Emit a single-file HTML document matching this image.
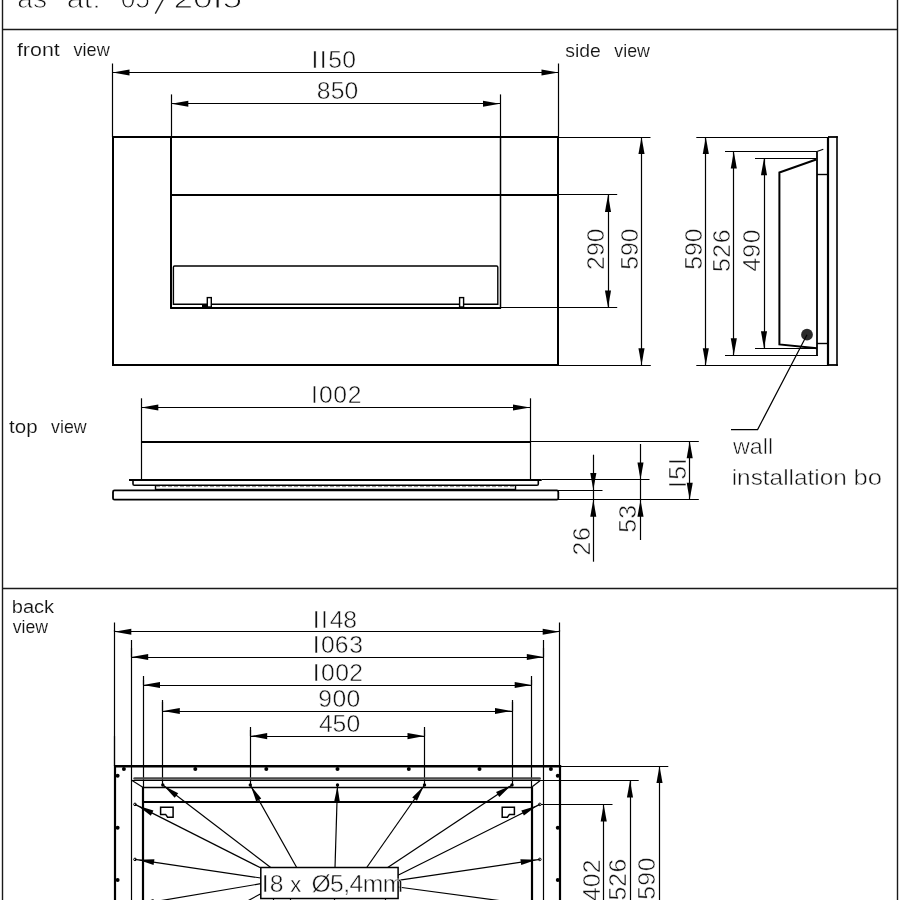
<!DOCTYPE html>
<html><head><meta charset="utf-8"><style>
html,body{margin:0;padding:0;background:#fff;width:900px;height:900px;overflow:hidden}
svg{display:block;filter:grayscale(1)}
text{font-family:"Liberation Sans",sans-serif}
</style></head><body>
<svg width="900" height="900" viewBox="0 0 900 900">
<rect width="900" height="900" fill="#fff"/>
<line x1="2.5" y1="0" x2="2.5" y2="900" stroke="#1a1a1a" stroke-width="1.4"/>
<line x1="897.5" y1="0" x2="897.5" y2="900" stroke="#1a1a1a" stroke-width="1.4"/>
<line x1="2" y1="29.5" x2="898" y2="29.5" stroke="#1a1a1a" stroke-width="1.5999999999999999"/>
<line x1="2" y1="588.5" x2="898" y2="588.5" stroke="#1a1a1a" stroke-width="1.5999999999999999"/>
<text transform="translate(18.50,7.5) scale(0.9871,1.0)" x="-1.21 14.64" y="0" font-size="28.5" fill="#111" stroke="#fff" stroke-width="0.9">as</text>
<text transform="translate(68.00,7.5) scale(1.0763,1.0)" x="-1.21 14.64 22.56" y="0" font-size="28.5" fill="#111" stroke="#fff" stroke-width="0.9">at:</text>
<text transform="translate(121.70,7.5) scale(0.9255,1.0)" x="-1.11 14.74" y="0" font-size="28.5" fill="#111" stroke="#fff" stroke-width="0.9">05</text>
<text transform="translate(175.30,7.5) scale(1.2358,1.0)" x="-1.43 14.42 30.27 38.19" y="0" font-size="28.5" fill="#111" stroke="#fff" stroke-width="0.9">20I5</text>
<line x1="163.9" y1="-2" x2="155.3" y2="13.7" stroke="#222" stroke-width="1.4"/>
<text transform="translate(17.20,55.5) scale(1.1516,1.0)" x="-0.26 4.90 11.10 21.44 31.79" y="0" font-size="18.6" fill="#111" stroke="#fff" stroke-width="0.15">front</text>
<text transform="translate(73.60,55.5) scale(0.9734,1.0)" x="-0.06 9.24 13.37 23.71" y="0" font-size="18.6" fill="#111" stroke="#fff" stroke-width="0.15">view</text>
<text transform="translate(565.80,56.7) scale(1.0434,1.0)" x="-0.52 8.78 12.91 23.26" y="0" font-size="18.6" fill="#111" stroke="#fff" stroke-width="0.15">side</text>
<text transform="translate(614.40,56.7) scale(0.9572,1.0)" x="-0.06 9.24 13.37 23.71" y="0" font-size="18.6" fill="#111" stroke="#fff" stroke-width="0.15">view</text>
<line x1="112.5" y1="63.5" x2="112.5" y2="137" stroke="#000" stroke-width="1.2"/>
<line x1="558.5" y1="63.5" x2="558.5" y2="137" stroke="#000" stroke-width="1.2"/>
<line x1="112.5" y1="72.5" x2="558.5" y2="72.5" stroke="#000" stroke-width="1.2"/>
<polygon points="112.50,72.50 129.50,69.45 129.50,75.55" fill="#000"/>
<polygon points="558.50,72.50 541.50,75.55 541.50,69.45" fill="#000"/>
<text x="311.42 319.82 328.21 342.24" y="67.9" font-size="24.7" fill="#111" stroke="#fff" stroke-width="0.5">II50</text>
<line x1="171.5" y1="94.4" x2="171.5" y2="137" stroke="#000" stroke-width="1.2"/>
<line x1="500.5" y1="94.4" x2="500.5" y2="137" stroke="#000" stroke-width="1.2"/>
<line x1="171.3" y1="103.5" x2="500" y2="103.5" stroke="#000" stroke-width="1.2"/>
<polygon points="171.30,103.80 188.30,100.75 188.30,106.85" fill="#000"/>
<polygon points="500.00,103.80 483.00,106.85 483.00,100.75" fill="#000"/>
<text x="316.83 330.72 344.55" y="98.7" font-size="24.7" fill="#111" stroke="#fff" stroke-width="0.5">850</text>
<rect x="113" y="137" width="445" height="228" rx="0" stroke="#000" stroke-width="2" fill="none"/>
<line x1="171.0" y1="137" x2="171.0" y2="308.5" stroke="#000" stroke-width="2"/>
<line x1="500.5" y1="137" x2="500.5" y2="308.5" stroke="#000" stroke-width="1.5"/>
<line x1="170.2" y1="308.0" x2="501" y2="308.0" stroke="#000" stroke-width="2"/>
<line x1="171" y1="195.0" x2="559" y2="195.0" stroke="#000" stroke-width="2"/>
<path d="M173.4,305 V267.2 Q173.4,266 174.6,266 H496.6 Q497.8,266 497.8,267.2 V304.3 H173.4" fill="none" stroke="#000" stroke-width="1.4"/>
<rect x="207.3" y="297.6" width="4" height="9.4" rx="0" stroke="#000" stroke-width="1.4" fill="#fff"/>
<rect x="459.6" y="297.6" width="4" height="9.4" rx="0" stroke="#000" stroke-width="1.4" fill="#fff"/>
<line x1="202" y1="306.0" x2="207" y2="306.0" stroke="#000" stroke-width="2"/>
<line x1="559" y1="194.5" x2="617.2" y2="194.5" stroke="#000" stroke-width="1.2"/>
<line x1="500" y1="307.5" x2="617.2" y2="307.5" stroke="#000" stroke-width="1.2"/>
<line x1="559" y1="137.5" x2="650.5" y2="137.5" stroke="#000" stroke-width="1.2"/>
<line x1="559" y1="365.5" x2="650.8" y2="365.5" stroke="#000" stroke-width="1.2"/>
<line x1="608.5" y1="195" x2="608.5" y2="307.5" stroke="#000" stroke-width="1.2"/>
<polygon points="608.00,195.00 611.05,212.00 604.95,212.00" fill="#000"/>
<polygon points="608.00,307.50 604.95,290.50 611.05,290.50" fill="#000"/>
<line x1="641.5" y1="137" x2="641.5" y2="365.2" stroke="#000" stroke-width="1.2"/>
<polygon points="641.50,137.00 644.55,154.00 638.45,154.00" fill="#000"/>
<polygon points="641.50,365.20 638.45,348.20 644.55,348.20" fill="#000"/>
<text transform="rotate(-90)" x="-269.94 -256.09 -242.13" y="604.2" font-size="24.7" fill="#111" stroke="#fff" stroke-width="0.5">290</text>
<text transform="rotate(-90)" x="-269.69 -256.09 -242.13" y="637.7" font-size="24.7" fill="#111" stroke="#fff" stroke-width="0.5">590</text>
<line x1="696.3" y1="137.5" x2="829" y2="137.5" stroke="#000" stroke-width="1.2"/>
<line x1="696.3" y1="365.5" x2="829" y2="365.5" stroke="#000" stroke-width="1.2"/>
<line x1="705.5" y1="137" x2="705.5" y2="365.2" stroke="#000" stroke-width="1.2"/>
<polygon points="705.80,137.00 708.85,154.00 702.75,154.00" fill="#000"/>
<polygon points="705.80,365.20 702.75,348.20 708.85,348.20" fill="#000"/>
<text transform="rotate(-90)" x="-269.69 -256.09 -242.13" y="701.7" font-size="24.7" fill="#111" stroke="#fff" stroke-width="0.5">590</text>
<line x1="725" y1="151.5" x2="817" y2="151.5" stroke="#000" stroke-width="1.2"/>
<line x1="817" y1="151.5" x2="823.3" y2="149.2" stroke="#000" stroke-width="1.2"/>
<line x1="725" y1="355.5" x2="818" y2="355.5" stroke="#000" stroke-width="1.2"/>
<line x1="733.5" y1="151.5" x2="733.5" y2="355.3" stroke="#000" stroke-width="1.2"/>
<polygon points="733.80,151.50 736.85,168.50 730.75,168.50" fill="#000"/>
<polygon points="733.80,355.30 730.75,338.30 736.85,338.30" fill="#000"/>
<text transform="rotate(-90)" x="-271.99 -257.72 -243.21" y="729.8" font-size="24.7" fill="#111" stroke="#fff" stroke-width="0.5">526</text>
<line x1="755" y1="158.5" x2="816.5" y2="158.5" stroke="#000" stroke-width="1.2"/>
<line x1="755" y1="348.5" x2="817" y2="348.5" stroke="#000" stroke-width="1.2"/>
<line x1="764.5" y1="158.3" x2="764.5" y2="348.3" stroke="#000" stroke-width="1.2"/>
<polygon points="764.00,158.30 767.05,175.30 760.95,175.30" fill="#000"/>
<polygon points="764.00,348.30 760.95,331.30 767.05,331.30" fill="#000"/>
<text transform="rotate(-90)" x="-271.57 -257.81 -243.28" y="759.8" font-size="24.7" fill="#111" stroke="#fff" stroke-width="0.5">490</text>
<line x1="828.0" y1="137" x2="828.0" y2="365.5" stroke="#000" stroke-width="2.2"/>
<line x1="837.0" y1="136.2" x2="837.0" y2="366" stroke="#000" stroke-width="1.6"/>
<line x1="828" y1="137.0" x2="837.8" y2="137.0" stroke="#000" stroke-width="1.8"/>
<line x1="828" y1="365.0" x2="837.8" y2="365.0" stroke="#000" stroke-width="1.8"/>
<line x1="817.0" y1="151.5" x2="817.0" y2="355.5" stroke="#000" stroke-width="1.8"/>
<line x1="817" y1="174.5" x2="828" y2="174.5" stroke="#000" stroke-width="1.4"/>
<line x1="817" y1="343.5" x2="828" y2="343.5" stroke="#000" stroke-width="1.4"/>
<polyline points="816.2,159.5 779.4,172.5 779.4,344.4 817,348.2" stroke="#000" stroke-width="2" fill="none" stroke-linejoin="miter"/>
<circle cx="807" cy="334.7" r="5.9" fill="#2a2a2a" stroke="none" stroke-width="0"/>
<polyline points="807,334.7 757.6,429.6 731,429.6" stroke="#000" stroke-width="1.2" fill="none" stroke-linejoin="miter"/>
<text transform="translate(733.00,454) scale(1.0306,1.0)" x="0.03 16.35 28.92 33.94" y="0" font-size="22.6" fill="#111" stroke="#fff" stroke-width="0.5">wall</text>
<text transform="translate(733.30,485.1) scale(1.0789,1.0)" x="-1.51 3.51 16.08 27.38 33.66 46.23 51.25 56.27 68.84 75.12 80.14 92.71" y="0" font-size="22.6" fill="#111" stroke="#fff" stroke-width="0.5">installation</text>
<text transform="translate(855.10,485.1) scale(1.1349,1.0)" x="-1.46 11.11" y="0" font-size="22.6" fill="#111" stroke="#fff" stroke-width="0.5">bo</text>
<text transform="translate(9.40,432.6) scale(1.1011,1.0)" x="-0.28 4.89 15.23" y="0" font-size="18.6" fill="#111" stroke="#fff" stroke-width="0.15">top</text>
<text transform="translate(51.10,432.6) scale(0.9572,1.0)" x="-0.06 9.24 13.37 23.71" y="0" font-size="18.6" fill="#111" stroke="#fff" stroke-width="0.15">view</text>
<line x1="141.5" y1="398.3" x2="141.5" y2="479.5" stroke="#000" stroke-width="1.2"/>
<line x1="530.5" y1="398.3" x2="530.5" y2="479.5" stroke="#000" stroke-width="1.2"/>
<line x1="141.3" y1="407.5" x2="530" y2="407.5" stroke="#000" stroke-width="1.2"/>
<polygon points="141.30,407.50 158.30,404.45 158.30,410.55" fill="#000"/>
<polygon points="530.00,407.50 513.00,410.55 513.00,404.45" fill="#000"/>
<text x="311.12 319.04 333.24 347.66" y="403.3" font-size="24.7" fill="#111" stroke="#fff" stroke-width="0.5">I002</text>
<line x1="141" y1="442.0" x2="530" y2="442.0" stroke="#000" stroke-width="1.8"/>
<line x1="530" y1="441.5" x2="698.8" y2="441.5" stroke="#000" stroke-width="1.2"/>
<line x1="129" y1="480.0" x2="541.7" y2="480.0" stroke="#000" stroke-width="2"/>
<line x1="541.7" y1="479.5" x2="649.5" y2="479.5" stroke="#000" stroke-width="1.2"/>
<path d="M133,480 V484 Q133,485.3 134.3,485.3 H537 Q538.3,485.3 538.3,484 V480" fill="none" stroke="#000" stroke-width="1.6"/>
<line x1="155.5" y1="485.3" x2="155.5" y2="490" stroke="#000" stroke-width="1.4"/>
<line x1="515.5" y1="485.3" x2="515.5" y2="490" stroke="#000" stroke-width="1.4"/>
<line x1="156" y1="486.6" x2="515" y2="486.6" stroke="#888" stroke-width="0.9" stroke-dasharray="4,2"/>
<line x1="155.4" y1="489.5" x2="515.8" y2="489.5" stroke="#000" stroke-width="1.4"/>
<rect x="113" y="490.4" width="445.3" height="9.3" rx="1.5" stroke="#000" stroke-width="1.8" fill="none"/>
<line x1="558" y1="490.5" x2="602.5" y2="490.5" stroke="#000" stroke-width="1.2"/>
<line x1="558" y1="499.5" x2="698.8" y2="499.5" stroke="#000" stroke-width="1.2"/>
<line x1="593.5" y1="454.7" x2="593.5" y2="561.7" stroke="#000" stroke-width="1.2"/>
<polygon points="593.30,489.90 590.25,472.90 596.35,472.90" fill="#000"/>
<polygon points="593.30,499.70 596.35,516.70 590.25,516.70" fill="#000"/>
<line x1="640.5" y1="444" x2="640.5" y2="540" stroke="#000" stroke-width="1.2"/>
<polygon points="640.50,479.50 637.45,462.50 643.55,462.50" fill="#000"/>
<polygon points="640.50,499.70 643.55,516.70 637.45,516.70" fill="#000"/>
<line x1="689.5" y1="441.3" x2="689.5" y2="499.7" stroke="#000" stroke-width="1.2"/>
<polygon points="689.70,441.30 692.75,458.30 686.65,458.30" fill="#000"/>
<polygon points="689.70,499.70 686.65,482.70 692.75,482.70" fill="#000"/>
<text transform="rotate(-90)" x="-488.08 -479.72 -464.92" y="685.6" font-size="24.7" fill="#111" stroke="#fff" stroke-width="0.5">I5I</text>
<text transform="rotate(-90)" x="-532.69 -518.83" y="636.1" font-size="24.7" fill="#111" stroke="#fff" stroke-width="0.5">53</text>
<text transform="rotate(-90)" x="-555.44 -540.97" y="589.8" font-size="24.7" fill="#111" stroke="#fff" stroke-width="0.5">26</text>
<text transform="translate(13.00,612.8) scale(1.0809,1.0)" x="-1.20 9.15 19.49 28.79" y="0" font-size="18.6" fill="#111" stroke="#fff" stroke-width="0.15">back</text>
<text transform="translate(12.70,633.4) scale(0.9518,1.0)" x="-0.06 9.24 13.37 23.71" y="0" font-size="18.6" fill="#111" stroke="#fff" stroke-width="0.15">view</text>
<line x1="114.5" y1="622.5" x2="114.5" y2="631.7" stroke="#000" stroke-width="1.2"/>
<line x1="559.5" y1="622.5" x2="559.5" y2="631.7" stroke="#000" stroke-width="1.2"/>
<line x1="114.3" y1="631.5" x2="559.7" y2="631.5" stroke="#000" stroke-width="1.2"/>
<polygon points="114.30,631.70 131.30,628.65 131.30,634.75" fill="#000"/>
<polygon points="559.70,631.70 542.70,634.75 542.70,628.65" fill="#000"/>
<text x="312.72 321.08 329.66 343.28" y="627.5" font-size="24.7" fill="#111" stroke="#fff" stroke-width="0.5">II48</text>
<line x1="131.5" y1="648" x2="131.5" y2="657" stroke="#000" stroke-width="1.2"/>
<line x1="543.5" y1="648" x2="543.5" y2="657" stroke="#000" stroke-width="1.2"/>
<line x1="131.2" y1="657.5" x2="543.8" y2="657.5" stroke="#000" stroke-width="1.2"/>
<polygon points="131.20,657.00 148.20,653.95 148.20,660.05" fill="#000"/>
<polygon points="543.80,657.00 526.80,660.05 526.80,653.95" fill="#000"/>
<text x="312.72 320.94 334.85 349.36" y="652.7" font-size="24.7" fill="#111" stroke="#fff" stroke-width="0.5">I063</text>
<line x1="143.5" y1="676" x2="143.5" y2="685" stroke="#000" stroke-width="1.2"/>
<line x1="531.5" y1="676" x2="531.5" y2="685" stroke="#000" stroke-width="1.2"/>
<line x1="143" y1="685.5" x2="531.7" y2="685.5" stroke="#000" stroke-width="1.2"/>
<polygon points="143.00,685.00 160.00,681.95 160.00,688.05" fill="#000"/>
<polygon points="531.70,685.00 514.70,688.05 514.70,681.95" fill="#000"/>
<text x="312.72 320.98 335.27 349.29" y="680.7" font-size="24.7" fill="#111" stroke="#fff" stroke-width="0.5">I002</text>
<line x1="162.5" y1="701.7" x2="162.5" y2="711" stroke="#000" stroke-width="1.2"/>
<line x1="512.5" y1="701.7" x2="512.5" y2="711" stroke="#000" stroke-width="1.2"/>
<line x1="162.8" y1="711.5" x2="512" y2="711.5" stroke="#000" stroke-width="1.2"/>
<polygon points="162.80,711.00 179.80,707.95 179.80,714.05" fill="#000"/>
<polygon points="512.00,711.00 495.00,714.05 495.00,707.95" fill="#000"/>
<text x="318.34 332.52 346.50" y="707" font-size="24.7" fill="#111" stroke="#fff" stroke-width="0.5">900</text>
<line x1="250.5" y1="727" x2="250.5" y2="736.1" stroke="#000" stroke-width="1.2"/>
<line x1="424.5" y1="727" x2="424.5" y2="736.1" stroke="#000" stroke-width="1.2"/>
<line x1="250.2" y1="736.5" x2="424.5" y2="736.5" stroke="#000" stroke-width="1.2"/>
<polygon points="250.20,736.10 267.20,733.05 267.20,739.15" fill="#000"/>
<polygon points="424.50,736.10 407.50,739.15 407.50,733.05" fill="#000"/>
<text x="318.93 332.50 346.50" y="731.7" font-size="24.7" fill="#111" stroke="#fff" stroke-width="0.5">450</text>
<line x1="114.5" y1="736.1" x2="114.5" y2="766" stroke="#000" stroke-width="1.2"/>
<line x1="131.5" y1="640" x2="131.5" y2="900" stroke="#000" stroke-width="1.2"/>
<line x1="543.5" y1="640" x2="543.5" y2="900" stroke="#000" stroke-width="1.2"/>
<line x1="143.5" y1="680" x2="143.5" y2="787" stroke="#000" stroke-width="1.2"/>
<line x1="531.5" y1="680" x2="531.5" y2="787" stroke="#000" stroke-width="1.2"/>
<line x1="162.5" y1="700" x2="162.5" y2="785" stroke="#000" stroke-width="1.2"/>
<line x1="512.5" y1="700" x2="512.5" y2="785" stroke="#000" stroke-width="1.2"/>
<line x1="250.5" y1="730" x2="250.5" y2="785" stroke="#000" stroke-width="1.2"/>
<line x1="424.5" y1="730" x2="424.5" y2="785" stroke="#000" stroke-width="1.2"/>
<line x1="114.5" y1="630" x2="114.5" y2="766" stroke="#000" stroke-width="1.2"/>
<line x1="559.5" y1="630" x2="559.5" y2="766" stroke="#000" stroke-width="1.2"/>
<line x1="115.0" y1="765.5" x2="115.0" y2="900" stroke="#000" stroke-width="2.2"/>
<line x1="560.0" y1="765.5" x2="560.0" y2="900" stroke="#000" stroke-width="2.2"/>
<path d="M114,766.3 H561.2" stroke="#000" stroke-width="2.4"/>
<line x1="561" y1="766.5" x2="668.3" y2="766.5" stroke="#000" stroke-width="1.2"/>
<circle cx="123.9" cy="768.9" r="2.0" fill="#000" stroke="none" stroke-width="0"/>
<circle cx="195.3" cy="768.9" r="2.0" fill="#000" stroke="none" stroke-width="0"/>
<circle cx="266.3" cy="768.9" r="2.0" fill="#000" stroke="none" stroke-width="0"/>
<circle cx="337.5" cy="768.9" r="2.0" fill="#000" stroke="none" stroke-width="0"/>
<circle cx="408.8" cy="768.9" r="2.0" fill="#000" stroke="none" stroke-width="0"/>
<circle cx="479.5" cy="768.9" r="2.0" fill="#000" stroke="none" stroke-width="0"/>
<circle cx="550.9" cy="768.9" r="2.0" fill="#000" stroke="none" stroke-width="0"/>
<circle cx="117.6" cy="775.8" r="2.0" fill="#000" stroke="none" stroke-width="0"/>
<circle cx="557.8" cy="775.8" r="2.0" fill="#000" stroke="none" stroke-width="0"/>
<circle cx="117.6" cy="827.8" r="2.0" fill="#000" stroke="none" stroke-width="0"/>
<circle cx="557.8" cy="827.8" r="2.0" fill="#000" stroke="none" stroke-width="0"/>
<circle cx="117.6" cy="880" r="2.0" fill="#000" stroke="none" stroke-width="0"/>
<circle cx="557.8" cy="880" r="2.0" fill="#000" stroke="none" stroke-width="0"/>
<path d="M134.6,778.5 H539.6" stroke="#4a4a4a" stroke-width="2.6" stroke-linecap="round"/>
<line x1="131.7" y1="780.5" x2="541" y2="780.5" stroke="#000" stroke-width="1.2"/>
<line x1="541" y1="780.5" x2="638.7" y2="780.5" stroke="#000" stroke-width="1.2"/>
<line x1="131.7" y1="780.3" x2="142.8" y2="787.2" stroke="#000" stroke-width="1.2"/>
<line x1="540.6" y1="780.3" x2="532.2" y2="786.7" stroke="#000" stroke-width="1.2"/>
<line x1="142.8" y1="787.5" x2="532" y2="787.5" stroke="#000" stroke-width="1.4"/>
<line x1="143" y1="802.0" x2="531.7" y2="802.0" stroke="#000" stroke-width="2"/>
<line x1="143.0" y1="787" x2="143.0" y2="900" stroke="#000" stroke-width="2.2"/>
<line x1="532.0" y1="787" x2="532.0" y2="900" stroke="#000" stroke-width="2.2"/>
<circle cx="162.8" cy="785" r="1.7" fill="#000" stroke="none" stroke-width="0"/>
<circle cx="250.3" cy="785" r="1.7" fill="#000" stroke="none" stroke-width="0"/>
<circle cx="337.5" cy="785" r="1.7" fill="#000" stroke="none" stroke-width="0"/>
<circle cx="424.5" cy="785" r="1.7" fill="#000" stroke="none" stroke-width="0"/>
<circle cx="512" cy="785" r="1.7" fill="#000" stroke="none" stroke-width="0"/>
<circle cx="135" cy="804.4" r="1.3" fill="#fff" stroke="#000" stroke-width="1"/>
<circle cx="135" cy="859.4" r="1.3" fill="#fff" stroke="#000" stroke-width="1"/>
<circle cx="539.8" cy="804.4" r="1.3" fill="#fff" stroke="#000" stroke-width="1"/>
<circle cx="539.8" cy="859.4" r="1.3" fill="#fff" stroke="#000" stroke-width="1"/>
<line x1="541" y1="804.5" x2="612.5" y2="804.5" stroke="#000" stroke-width="1.2"/>
<polygon points="160.6,807.2 173.1,807.2 173.1,817.2 167.6,817.2 165.6,814.4 160.6,814.4" stroke="#000" stroke-width="1.5" fill="none" stroke-linejoin="miter"/>
<polygon points="502.2,807.2 514.4,807.2 514.4,814.4 509.4,814.4 507.4,817.2 502.2,817.2" stroke="#000" stroke-width="1.5" fill="none" stroke-linejoin="miter"/>
<line x1="162.8" y1="785" x2="270.7" y2="867.5" stroke="#000" stroke-width="1.2"/>
<polygon points="163.75,785.73 178.23,793.14 174.70,797.75" fill="#000"/>
<line x1="250.3" y1="785" x2="296.7" y2="867.5" stroke="#000" stroke-width="1.2"/>
<polygon points="250.89,786.05 261.26,798.57 256.20,801.41" fill="#000"/>
<line x1="337.5" y1="785" x2="335" y2="867.5" stroke="#000" stroke-width="1.2"/>
<polygon points="337.46,786.20 339.88,802.28 334.08,802.10" fill="#000"/>
<line x1="424.5" y1="785" x2="366.7" y2="867.5" stroke="#000" stroke-width="1.2"/>
<polygon points="423.81,785.98 417.01,800.75 412.26,797.42" fill="#000"/>
<line x1="512" y1="785" x2="387.7" y2="867.5" stroke="#000" stroke-width="1.2"/>
<polygon points="511.00,785.66 499.27,796.93 496.07,792.10" fill="#000"/>
<line x1="539.8" y1="804.4" x2="398" y2="875.3" stroke="#000" stroke-width="1.2"/>
<polygon points="536.94,805.83 523.92,815.58 521.33,810.39" fill="#000"/>
<line x1="539.8" y1="859.4" x2="398" y2="880.3" stroke="#000" stroke-width="1.2"/>
<polygon points="536.63,859.87 521.23,865.07 520.38,859.33" fill="#000"/>
<line x1="539.8" y1="906" x2="398" y2="887" stroke="#000" stroke-width="1.2"/>
<polygon points="536.63,905.58 520.38,906.32 521.16,900.58" fill="#000"/>
<line x1="135" y1="804.4" x2="260.5" y2="867.8" stroke="#000" stroke-width="1.2"/>
<polygon points="137.86,805.84 153.44,810.47 150.83,815.65" fill="#000"/>
<line x1="135" y1="859.4" x2="260.8" y2="878" stroke="#000" stroke-width="1.2"/>
<polygon points="138.17,859.87 154.42,859.34 153.57,865.08" fill="#000"/>
<line x1="135" y1="905" x2="260.8" y2="883.7" stroke="#000" stroke-width="1.2"/>
<polygon points="138.16,904.47 153.45,898.94 154.41,904.65" fill="#000"/>
<line x1="200" y1="927" x2="260.8" y2="893.7" stroke="#000" stroke-width="1.2"/>
<line x1="273.5" y1="898" x2="273.5" y2="900" stroke="#000" stroke-width="1.2"/>
<line x1="290.5" y1="898" x2="290.5" y2="900" stroke="#000" stroke-width="1.2"/>
<line x1="334.5" y1="898" x2="334.5" y2="900" stroke="#000" stroke-width="1.2"/>
<line x1="385.5" y1="898" x2="385.5" y2="900" stroke="#000" stroke-width="1.2"/>
<rect x="260.8" y="867.5" width="137.3" height="31" rx="0" stroke="#000" stroke-width="1.5" fill="#fff"/>
<text x="261.72 269.67" y="891.5" font-size="24.7" fill="#111" stroke="#fff" stroke-width="0.5">I8</text>
<text x="290.35" y="891.5" font-size="22" fill="#111" stroke="#fff" stroke-width="0.4">x</text>
<text x="311.44 330.09 343.27 349.57 362.74 382.75" y="891.5" font-size="24.7" fill="#111" stroke="#fff" stroke-width="0.5">Ø5,4mm</text>
<line x1="659.5" y1="766" x2="659.5" y2="900" stroke="#000" stroke-width="1.2"/>
<polygon points="659.50,766.00 662.55,783.00 656.45,783.00" fill="#000"/>
<line x1="630.5" y1="780.5" x2="630.5" y2="900" stroke="#000" stroke-width="1.2"/>
<polygon points="630.00,780.50 633.05,797.50 626.95,797.50" fill="#000"/>
<line x1="603.5" y1="804.5" x2="603.5" y2="900" stroke="#000" stroke-width="1.2"/>
<polygon points="603.70,804.50 606.75,821.50 600.65,821.50" fill="#000"/>
<text transform="rotate(-90)" x="-900.97 -887.16 -873.24" y="599.6" font-size="24.7" fill="#111" stroke="#fff" stroke-width="0.5">402</text>
<text transform="rotate(-90)" x="-900.59 -886.64 -872.45" y="625.6" font-size="24.7" fill="#111" stroke="#fff" stroke-width="0.5">526</text>
<text transform="rotate(-90)" x="-899.79 -885.76 -871.36" y="655.2" font-size="24.7" fill="#111" stroke="#fff" stroke-width="0.5">590</text>
</svg>
</body></html>
